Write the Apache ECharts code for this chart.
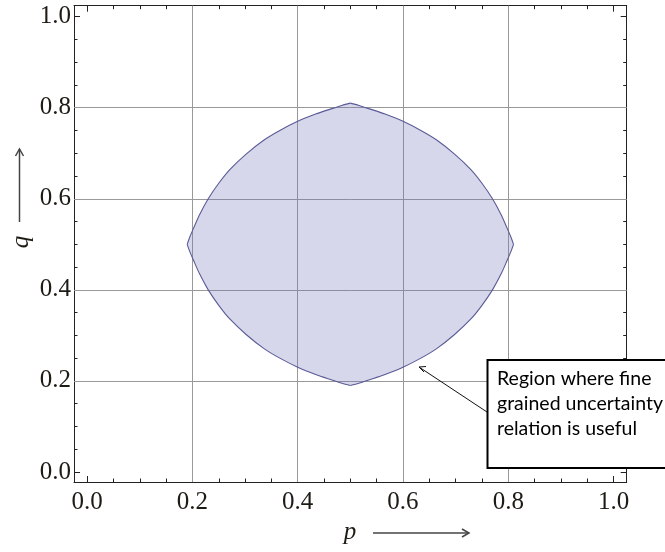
<!DOCTYPE html>
<html><head><meta charset="utf-8">
<script src="https://cdn.jsdelivr.net/npm/echarts@6/dist/echarts.min.js"></script>
<style>html,body{margin:0;padding:0;background:#fff}#c{width:665px;height:552px}</style>
</head><body><div id="c"></div>
<script>
// Boundary of the region, one arc per quadrant (each arc runs clockwise)
const arcUpperLeftP  = [0.190,0.195,0.202,0.214,0.230,0.250,0.271,0.302,0.336,0.366,0.400,0.434,0.465,0.484,0.500];
const arcUpperLeftQ  = [0.500,0.516,0.535,0.566,0.600,0.634,0.664,0.698,0.729,0.750,0.770,0.786,0.798,0.805,0.810];
const arcUpperRightP = [0.500,0.516,0.535,0.566,0.600,0.634,0.664,0.698,0.729,0.750,0.770,0.786,0.798,0.805,0.810];
const arcUpperRightQ = [0.810,0.805,0.798,0.786,0.770,0.750,0.729,0.698,0.664,0.634,0.600,0.566,0.535,0.516,0.500];
const arcLowerRightP = [0.810,0.805,0.798,0.786,0.770,0.750,0.729,0.698,0.664,0.634,0.600,0.566,0.535,0.516,0.500];
const arcLowerRightQ = [0.500,0.484,0.465,0.434,0.400,0.366,0.336,0.302,0.271,0.250,0.230,0.214,0.202,0.195,0.190];
const arcLowerLeftP  = [0.500,0.484,0.465,0.434,0.400,0.366,0.336,0.302,0.271,0.250,0.230,0.214,0.202,0.195,0.190];
const arcLowerLeftQ  = [0.190,0.195,0.202,0.214,0.230,0.250,0.271,0.302,0.336,0.366,0.400,0.434,0.465,0.484,0.500];

const majorTicks = [0, 0.2, 0.4, 0.6, 0.8, 1.0];
const minorTicks = [0.05,0.1,0.15,0.25,0.3,0.35,0.45,0.5,0.55,0.65,0.7,0.75,0.85,0.9,0.95];
const gridValues = [0.2, 0.4, 0.6, 0.8];
const xName = 'p';
const yName = 'q';
const noteLines = ['Region where fine', 'grained uncertainty', 'relation is useful'];

const arcs = [
  [arcUpperLeftP, arcUpperLeftQ],
  [arcUpperRightP, arcUpperRightQ],
  [arcLowerRightP, arcLowerRightQ],
  [arcLowerLeftP, arcLowerLeftQ]
];

const X_MIN = -0.025, X_MAX = 1.025, Y_MIN = -0.022, Y_MAX = 1.024;
const FRAME = '#222';
const LABEL_FONT = 'Liberation Serif';

function makeAxis(dim, position, ticks, tickLen, showLine, showLabel) {
  const isX = dim === 'x';
  return {
    type: 'value',
    gridIndex: 0,
    position: position,
    min: isX ? X_MIN : Y_MIN,
    max: isX ? X_MAX : Y_MAX,
    axisLine: { show: showLine, onZero: false, lineStyle: { color: FRAME, width: 1 } },
    axisTick: { show: true, inside: true, length: tickLen, customValues: ticks,
                lineStyle: { color: FRAME, width: 1 } },
    axisLabel: showLabel ? {
      show: true, customValues: majorTicks,
      formatter: v => Number(v).toFixed(1),
      fontFamily: LABEL_FONT, fontSize: 25, color: '#1e1a14',
      margin: isX ? 8 : 3
    } : { show: false },
    splitLine: { show: false },
    minorTick: { show: false },
    minorSplitLine: { show: false }
  };
}

const xAxes = [
  makeAxis('x', 'bottom', majorTicks, 6, true, true),
  makeAxis('x', 'bottom', minorTicks, 3.5, false, false),
  makeAxis('x', 'top', majorTicks, 6, true, false),
  makeAxis('x', 'top', minorTicks, 3.5, false, false)
];
const yAxes = [
  makeAxis('y', 'left', majorTicks, 6, true, true),
  makeAxis('y', 'left', minorTicks, 3.5, false, false),
  makeAxis('y', 'right', majorTicks, 6, true, false),
  makeAxis('y', 'right', minorTicks, 3.5, false, false)
];

const gridLineData = gridValues.map(v => ({ xAxis: v })).concat(gridValues.map(v => ({ yAxis: v })));

function arrowHead(x, y, dir) { // open chevron; dir: 'right' | 'up'
  if (dir === 'right') return [[x - 7, y - 4], [x, y], [x - 7, y + 4]];
  return [[x - 4, y + 7], [x, y], [x + 4, y + 7]];
}

const chart = echarts.init(document.getElementById('c'), null, { renderer: 'canvas' });
chart.setOption({
  backgroundColor: '#fff',
  animation: false,
  grid: { left: 74, right: 38.3, top: 5.7, bottom: 70, containLabel: false, outerBoundsMode: 'none' },
  xAxis: xAxes,
  yAxis: yAxes,
  series: [{
    type: 'custom',
    xAxisIndex: 0, yAxisIndex: 0,
    z: 3,
    data: [[0.5, 0.5]],
    renderItem: function (params, api) {
      const arcPts = arcs.map(a => a[0].map((p, i) => api.coord([p, a[1][i]])));
      const ring = [];
      arcPts.forEach(pts => pts.forEach((pt, i) => { if (i > 0 || ring.length === 0) ring.push(pt); }));
      const children = [{
        type: 'polygon',
        shape: { points: ring },
        style: { fill: 'rgba(110,110,185,0.28)', stroke: null }
      }];
      arcPts.forEach(pts => children.push({
        type: 'polyline',
        shape: { points: pts, smooth: 0.3 },
        style: { stroke: '#5a5a96', lineWidth: 1.1, fill: null }
      }));
      return { type: 'group', children: children };
    },
    markLine: {
      silent: true, z: 1, symbol: ['none', 'none'], animation: false,
      label: { show: false },
      lineStyle: { color: '#999', type: 'solid', width: 1 },
      emphasis: { disabled: true },
      data: gridLineData
    }
  }],
  graphic: [
    { type: 'text', x: 350, y: 532, z: 10,
      style: { text: xName, font: 'italic 25px "Liberation Serif"', fill: '#1e1a14',
               align: 'center', verticalAlign: 'middle' } },
    { type: 'polyline', z: 10, shape: { points: [[373, 533], [469, 533]] },
      style: { stroke: '#444', lineWidth: 1.5, fill: null } },
    { type: 'polyline', z: 10, shape: { points: arrowHead(469, 533, 'right') },
      style: { stroke: '#444', lineWidth: 1.5, fill: null } },
    { type: 'text', x: 21, y: 242, rotation: Math.PI / 2, z: 10,
      style: { text: yName, font: 'italic 25px "Liberation Serif"', fill: '#1e1a14',
               align: 'center', verticalAlign: 'middle' } },
    { type: 'polyline', z: 10, shape: { points: [[19.5, 222], [19.5, 149]] },
      style: { stroke: '#444', lineWidth: 1.5, fill: null } },
    { type: 'polyline', z: 10, shape: { points: arrowHead(19.5, 149, 'up') },
      style: { stroke: '#444', lineWidth: 1.5, fill: null } },
    { type: 'line', z: 20, shape: { x1: 487, y1: 412, x2: 419, y2: 367 },
      style: { stroke: '#111', lineWidth: 1 } },
    { type: 'polyline', z: 20, shape: { points: [[426, 366.5], [419, 367], [424, 372]] },
      style: { stroke: '#111', lineWidth: 1, fill: null } },
    { type: 'rect', z: 20, shape: { x: 487.5, y: 360, width: 200, height: 108 },
      style: { fill: '#fff', stroke: '#000', lineWidth: 2 } },
    { type: 'text', z: 21, x: 497, y: 366,
      style: { text: noteLines.join('\n'), font: '19.5px Lato', lineHeight: 25,
               fill: '#000', align: 'left', verticalAlign: 'top' } }
  ]
});
</script>
</body></html>
